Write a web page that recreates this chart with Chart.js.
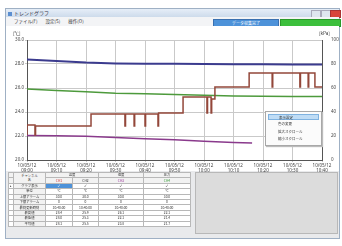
<!DOCTYPE html>
<html>
<head>
<meta charset="utf-8">
<script src="https://cdn.jsdelivr.net/npm/chart.js@4.4.1/dist/chart.umd.min.js"></script>
<style>
  body { margin:0; width:342px; height:246px; background:#fff; position:relative; overflow:hidden;
         font-family:"Noto Sans CJK JP","Noto Sans",sans-serif; }
  .abs { position:absolute; }
  #win { left:5px; top:8px; width:333px; height:229px; border:1px solid #9fb0c4; background:#e9eaec; }
  #titlebar { left:6px; top:9px; width:333px; height:8px; background:linear-gradient(#e6eef8,#cddbeb);
              font-size:5px; line-height:8px; color:#334; }
  #menubar { left:6px; top:17px; width:333px; height:9px; background:#f3f4f6; font-size:4.5px; line-height:9px; color:#333; }
  #plotbg { left:6px; top:26px; width:333px; height:145px; background:#fff; }
  #cv { left:5px; top:27px; width:335px; height:146px; }
  .menu-item { position:absolute; left:2px; width:51px; height:6px; font-size:3.5px; line-height:6px; padding-left:10px; box-sizing:border-box; color:#333; }
  table { border-collapse:collapse; table-layout:fixed; font-size:3.3px; }
  td { border:1px solid #b8b8b8; text-align:center; height:4.4px; padding:0; line-height:4px; background:#fff; color:#333; white-space:nowrap; overflow:hidden; }
  td.h { background:#f2f2f2; }
</style>
</head>
<body>
<div id="win" class="abs"></div>
<div id="titlebar" class="abs"><span style="display:inline-block;width:4px;height:4px;background:#5c8fd0;margin:0 2px 0 2px;vertical-align:middle"></span>トレンドグラフ</div>
<div class="abs" style="left:311px;top:10px;width:8px;height:6px;background:#dfe6ef;border:1px solid #aab"></div>
<div class="abs" style="left:321px;top:10px;width:8px;height:6px;background:#dfe6ef;border:1px solid #aab"></div>
<div class="abs" style="left:330px;top:10px;width:9px;height:6px;background:#d8443a;border:1px solid #a33"></div>
<div id="menubar" class="abs"><span style="margin-left:8px">ファイル(F)</span><span style="margin-left:8px">設定(S)</span><span style="margin-left:8px">操作(O)</span></div>
<div class="abs" style="left:213px;top:19px;width:64px;height:6px;background:#4d92d9;border:1px solid #3a70b0;color:#fff;font-size:4px;line-height:6px;text-align:center">データ収集完了</div>
<div class="abs" style="left:280px;top:19px;width:59px;height:6px;background:#3cbf3c;border:1px solid #2a9a2a"></div>
<div id="plotbg" class="abs"></div>
<canvas id="cv" class="abs" width="335" height="146"></canvas>
<div class="abs" style="left:13px;top:30px;font-size:4.5px;color:#333">[℃]</div>
<div class="abs" style="left:319px;top:30px;font-size:4.5px;color:#333">[kPa]</div>

<div class="abs" style="left:265px;top:111px;width:55px;height:33px;background:#fbfbfb;border:1px solid #a8a8a8;box-shadow:1px 1px 1px #bbb">
  <div class="menu-item" style="top:2px;background:#bfdcf5;border:1px solid #7fb2e0">表示設定</div>
  <div class="menu-item" style="top:9px">色の変更</div>
  <div class="menu-item" style="top:17px">拡大スクロール</div>
  <div class="menu-item" style="top:24px">縮小スクロール</div>
</div>

<div class="abs" style="left:195px;top:172px;width:141px;height:60px;background:#dcdcdc;border:1px solid #b8b8b8"></div>
<table class="abs" style="left:8px;top:172px;width:182px">
  <colgroup><col style="width:5px"><col style="width:32px"><col style="width:27px"><col style="width:26px"><col style="width:45px"><col style="width:47px"></colgroup>
  <tr><td class="h"></td><td class="h" rowspan="2">チャンネル<br>名</td><td class="h" colspan="2">温度</td><td class="h">湿度</td><td class="h">圧力</td></tr>
  <tr><td class="h"></td><td class="h" style="color:#c33">CH1</td><td class="h">CH2</td><td class="h" style="color:#939">CH3</td><td class="h" style="color:#393">CH4</td></tr>
  <tr><td>▸</td><td class="h">グラフ表示</td><td style="background:#4d92d9;color:#fff">✓</td><td>✓</td><td>✓</td><td>✓</td></tr>
  <tr><td></td><td class="h">単位</td><td>℃</td><td>℃</td><td>℃</td><td>℃</td></tr>
  <tr><td></td><td class="h">上限アラーム</td><td>30.0</td><td>30.0</td><td>30.0</td><td>30.0</td></tr>
  <tr><td></td><td class="h">下限アラーム</td><td>0</td><td>0</td><td>0</td><td>0</td></tr>
  <tr><td></td><td class="h">最終更新時刻</td><td>10:40:00</td><td>10:40:00</td><td>10:40:00</td><td>10:40:00</td></tr>
  <tr><td></td><td class="h">最高値</td><td>28.4</td><td>25.9</td><td>26.1</td><td>22.1</td></tr>
  <tr><td></td><td class="h">最低値</td><td>28.0</td><td>25.3</td><td>22.1</td><td>21.4</td></tr>
  <tr><td></td><td class="h">平均値</td><td>28.1</td><td>25.5</td><td>23.8</td><td>21.7</td></tr>
</table>

<script>
// x axis tick labels (two lines each)
var dateLabels = ['10/05/12','10/05/12','10/05/12','10/05/12','10/05/12','10/05/12','10/05/12','10/05/12','10/05/12','10/05/12','10/05/12'];
var timeLabels = ['09:00','09:10','09:20','09:30','09:40','09:50','10:00','10:10','10:20','10:30','10:40'];

// series: time in grid steps, value in ℃
var blueT   = [0, 1, 2, 3, 4, 5, 6, 7, 8, 9, 10];
var blueV   = [28.38, 28.25, 28.12, 28.05, 28.03, 28.02, 28.0, 27.98, 27.97, 27.96, 27.95];
var greenT  = [0, 1, 2, 3, 4, 5, 6, 7, 8, 9, 10];
var greenV  = [25.92, 25.8, 25.68, 25.56, 25.52, 25.46, 25.4, 25.34, 25.32, 25.3, 25.3];
var purpleT = [0, 1, 2, 3, 4, 5, 6, 7, 7.63];
var purpleV = [22.05, 22.03, 21.98, 21.88, 21.78, 21.68, 21.56, 21.46, 21.42];
var brownT  = [0, 0.27, 0.29, 2.17, 3.32, 3.34, 3.63, 3.65, 4.0, 4.02, 4.44, 4.46, 5.29, 6.1, 6.12, 6.24, 6.26, 6.37, 7.53, 8.31, 8.33, 9.25, 9.27, 9.53, 9.55, 9.76, 9.78, 10];
var brownV  = [22.08, 22.92, 22.08, 22.83, 23.83, 22.83, 23.83, 22.83, 23.83, 22.83, 23.83, 22.83, 23.92, 25.25, 23.92, 25.25, 23.92, 25.08, 26.08, 27.25, 26.08, 27.25, 26.08, 27.25, 26.08, 27.25, 26.08, 26.08];

function pts(t, v) {
  var out = []
  for (var i = 0; i < t.length; i++) out.push({x: t[i], y: v[i]})
  return out
}

var tickFont = {size: 4.5, family: 'Noto Sans, sans-serif'}

new Chart(document.getElementById('cv').getContext('2d'), {
  type: 'line',
  data: {
    datasets: [
      {data: pts(brownT, brownV), borderColor: '#93473a', borderWidth: 1.5, stepped: 'after', pointRadius: 0},
      {data: pts(purpleT, purpleV), borderColor: '#8a3a8c', borderWidth: 1.5, pointRadius: 0},
      {data: pts(greenT, greenV), borderColor: '#4d9a3c', borderWidth: 1.5, pointRadius: 0},
      {data: pts(blueT, blueV), borderColor: '#3b3b8e', borderWidth: 2, pointRadius: 0}
    ]
  },
  options: {
    responsive: false,
    animation: false,
    layout: {padding: {top: 13, left: 0, right: 0, bottom: 0}},
    plugins: {legend: {display: false}, tooltip: {enabled: false}},
    scales: {
      x: {
        type: 'linear', min: 0, max: 10,
        ticks: {stepSize: 1, font: tickFont, color: '#444', maxRotation: 0, padding: 1,
                callback: function (v) { return [dateLabels[v], timeLabels[v]] }},
        grid: {color: '#c9c9c9', tickLength: 2},
        border: {color: '#555'},
        afterFit: function (s) { s.height = 13 }
      },
      y: {
        min: 20, max: 30,
        ticks: {stepSize: 2, font: tickFont, color: '#444', padding: 1,
                callback: function (v) { return v.toFixed(1) }},
        grid: {color: '#c9c9c9', tickLength: 2},
        border: {color: '#555'},
        afterFit: function (s) { s.width = 22 }
      },
      y2: {
        position: 'right', min: 0, max: 100,
        ticks: {stepSize: 20, font: tickFont, color: '#444', padding: 1},
        grid: {display: false},
        border: {color: '#555'},
        afterFit: function (s) { s.width = 18 }
      }
    }
  }
})
</script>
</body>
</html>
